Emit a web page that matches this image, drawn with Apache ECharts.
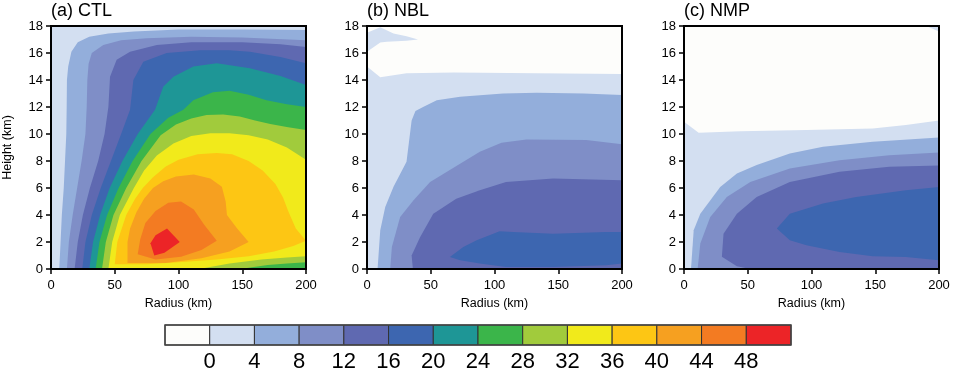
<!DOCTYPE html>
<html>
<head>
<meta charset="utf-8">
<script src="https://cdn.jsdelivr.net/npm/echarts@6.0.0/dist/echarts.min.js"></script>
<style>
html, body { margin: 0; padding: 0; background: #fff; }
#chart { width: 958px; height: 380px; }
</style>
</head>
<body>
<div id="chart"></div>
<script>
// colour bar: first colour is below 0, then one colour per 4 m/s step
const barLabels = [0, 4, 8, 12, 16, 20, 24, 28, 32, 36, 40, 44, 48];
const fillColors = ['#fdfdfb', '#d3dff1', '#93aedb', '#7f8ec7', '#5f69b1', '#3d66b0', '#1e9696',
    '#3bb54a', '#a1cb3c', '#f1ea1b', '#fdc614', '#f6a020', '#f37b22', '#ec2427'];

const fullBox = [[0, 0], [200, 0], [200, 18], [0, 18]];

// (a) CTL, outline of the area >= level, points are [radius km, height km]
const ctlLevels = [0, 4, 8, 12, 16, 20, 24, 28, 32, 36, 40, 44, 48];
const ctlShapes = [
    fullBox,
    [[6.5,0],[7.5,2],[8.5,4],[10,6],[11,8],[12,10],[12.3,12],[12.5,14],[13.5,15],[16,16.1],[21,16.8],[30,17.2],[45,17.45],[65,17.6],[100,17.75],[150,17.75],[200,17.7],[200,0]],
    [[12.5,0],[14,2],[17,4],[20.5,6],[24,8],[27,10],[28,12],[28.5,14],[29.5,15.2],[32,16.0],[41,16.6],[55,16.95],[75,17.1],[110,17.2],[150,17.15],[200,16.95],[200,0]],
    [[18.5,0],[21,2],[25,4],[30.5,6],[37,8],[42,10],[45,12],[46.3,14.25],[51.5,15.5],[62,16.1],[83,16.6],[110,16.8],[150,16.8],[180,16.65],[200,16.45],[200,0]],
    [[24.5,0],[27,2],[32,4],[39,6],[47,8],[55,10],[62,11.8],[64.6,14],[72.4,15.36],[90.7,16.0],[117,16.2],[140,16.2],[156,16.1],[180,15.7],[200,15.24],[200,0]],
    [[30,0],[33,2],[38.5,4],[46,6],[56,8],[68,10],[81.6,11.8],[88,13.5],[96,14.25],[111.6,15.0],[130,15.24],[156,14.87],[180,14.3],[200,13.63],[200,0]],
    [[35,0],[38,2],[44,4],[53,6],[64,8],[78,10],[92,11.2],[103.8,11.8],[111.6,12.5],[127,13.1],[140,13.2],[155,12.9],[169,12.5],[185,12.2],[200,12.0],[200,0]],
    [[40,0],[43,2],[49,4],[59,6],[71,8],[86,9.9],[98,10.7],[110,11.15],[122,11.4],[135,11.45],[148,11.3],[160,11.0],[172,10.75],[186,10.5],[200,10.3],[200,0.5],[185,0.4],[170,0.3],[148,0]],
    [[45,0],[48,2],[54,4],[65,6],[73,7.3],[83,8.4],[96,9.3],[110,9.85],[125,10.05],[140,10.05],[155,9.9],[170,9.6],[185,9.0],[200,8.1],[200,0.95],[185,0.85],[165,0.7],[140,0.4],[116,0]],
    [[50,0.35],[52,2],[59,4],[66,5.2],[72,6],[80,6.8],[90,7.6],[100,8.1],[115,8.5],[130,8.6],[142,8.5],[155,8.0],[166,7.3],[176,6.3],[182,5.3],[186,4.3],[192,3.0],[200,2.1],[190,1.7],[175,1.3],[155,0.95],[130,0.7],[100,0.5],[75,0.35]],
    [[60,0.45],[60,2],[62,3],[67,4.2],[73,5.2],[80,6.0],[88,6.5],[98,6.85],[112,7.0],[125,6.7],[134,6.1],[137,5.0],[138,4.0],[146,3.0],[155,2.0],[140,1.3],[118,0.8],[90,0.45]],
    [[68,1.1],[70,2.2],[74,3.4],[82,4.3],[92,4.9],[102,5.0],[112,4.4],[120,3.3],[130,2.1],[118,1.4],[102,0.9],[82,0.7]],
    [[78,1.9],[81,1.0],[89,1.2],[101,2.0],[91,3.0],[82,2.5]]
];

// (b) NBL, -1 marks the area below 0
const nblLevels = [0, -1, 4, 8, 12, 16];
const nblShapes = [
    fullBox,
    [[0,15],[10.4,14.2],[31,14.5],[68,14.55],[200,14.45],[200,18],[0,18],[0,17.5],[10.4,17.9],[20.8,17.45],[31,17.25],[40,17.0],[31,16.9],[15.6,16.84],[10.4,16.77],[0,16.1]],
    [[8.3,0],[10.4,2.87],[14.3,4.6],[20.8,6.1],[31,7.94],[35,11.0],[38,11.7],[44,12.0],[54.7,12.5],[73,12.76],[106.8,13.0],[133,13.06],[170,13.0],[200,12.88],[200,0]],
    [[18.2,0],[19.5,1.63],[26,3.86],[36.5,5.1],[49.5,6.45],[73,7.8],[88.5,8.68],[105.5,9.35],[125,9.6],[172,9.55],[200,9.25],[200,0]],
    [[36,0],[35,1.0],[41.7,2.37],[52,4.1],[70,5.2],[88.5,5.84],[109,6.45],[146,6.7],[200,6.58],[200,0]],
    [[65,0.89],[75.5,1.63],[86,2.13],[104,2.8],[114.6,2.74],[146,2.62],[187.5,2.74],[200,2.74],[200,0.4],[187.5,0.27],[146,0.15],[109,0.15],[88.5,0.4],[73,0.64]]
];

// (c) NMP
const nmpLevels = [0, -1, 4, 8, 12, 16];
const nmpShapes = [
    fullBox,
    [[0,10.9],[11.5,10.1],[44,10.2],[96,10.3],[148,10.4],[174,10.66],[200,11.0],[200,17.6],[190,18],[0,18]],
    [[5.5,0],[7.6,2.87],[12.8,4.1],[28.4,6.08],[41.5,7.07],[57,7.7],[83,8.56],[109,9.05],[148,9.42],[200,9.74],[200,0]],
    [[10.7,0],[12.8,1.88],[20.6,3.86],[33.6,5.34],[52,6.45],[83,7.44],[122,8.06],[161,8.43],[200,8.63],[200,0]],
    [[29.7,0.9],[31,2.62],[41.5,4.1],[57,5.34],[83,6.45],[122,7.2],[161,7.57],[200,7.67],[200,0],[52,0],[41.5,0.2]],
    [[72.8,3.0],[83,4.1],[109,4.85],[135,5.34],[174,5.84],[200,6.08],[200,0.64],[174,0.89],[148,0.94],[122,1.26],[96,1.76],[83,2.13]]
];

const panelTitles = ['(a) CTL', '(b) NBL', '(c) NMP'];
const panelLeft = [51, 367, 684];
const font = 'Liberation Sans, Arial, Helvetica, sans-serif';

function colorOf(lvl) {
    return lvl < 0 ? fillColors[0] : fillColors[lvl / 4 + 1];
}

function contourSeries(idx, lv, shapes) {
    return {
        type: 'custom',
        xAxisIndex: idx,
        yAxisIndex: idx,
        clip: true,
        silent: true,
        z: 1,
        data: lv.map((l, i) => [i, l]),
        renderItem: function (params, api) {
            const k = params.dataIndex;
            return {
                type: 'polygon',
                shape: { points: shapes[k].map(p => api.coord(p)) },
                style: { fill: colorOf(lv[k]) }
            };
        }
    };
}

const grids = [], xAxes = [], yAxes = [], titles = [];
panelLeft.forEach((left, i) => {
    grids.push({ left: left, top: 26, width: 255, height: 243, show: true, z: 5,
        borderColor: '#000', borderWidth: 2, backgroundColor: 'transparent' });
    xAxes.push({
        gridIndex: i, type: 'value', min: 0, max: 200, interval: 50, z: 6,
        name: 'Radius (km)', nameLocation: 'middle', nameGap: 26,
        nameTextStyle: { fontSize: 12.5, color: '#000', fontFamily: font },
        axisLine: { show: true, onZero: false, lineStyle: { color: '#000', width: 2 } },
        axisTick: { show: true, length: 5, lineStyle: { color: '#000', width: 1.5 } },
        axisLabel: { fontSize: 13, color: '#000', margin: 10, fontFamily: font },
        splitLine: { show: false }
    });
    yAxes.push({
        gridIndex: i, type: 'value', min: 0, max: 18, interval: 2, z: 6,
        name: i === 0 ? 'Height (km)' : '', nameLocation: 'middle', nameGap: 37, nameRotate: 90,
        nameTextStyle: { fontSize: 12.5, color: '#000', fontFamily: font },
        axisLine: { show: true, onZero: false, lineStyle: { color: '#000', width: 2 } },
        axisTick: { show: true, length: 5, lineStyle: { color: '#000', width: 1.5 } },
        axisLabel: { fontSize: 13, color: '#000', margin: 8, fontFamily: font },
        splitLine: { show: false }
    });
    titles.push({ text: panelTitles[i], left: left, top: 2, padding: 0,
        textStyle: { fontSize: 18, fontWeight: 'normal', color: '#000', fontFamily: font } });
});

// colour bar
grids.push({ left: 165, top: 325, width: 626, height: 20, show: true, z: 5,
    borderColor: '#444', borderWidth: 1.5, backgroundColor: 'transparent' });
xAxes.push({
    gridIndex: 3, type: 'value', min: 0, max: 14, interval: 1,
    axisLine: { show: false }, axisTick: { show: false }, splitLine: { show: false },
    axisLabel: { fontSize: 22, color: '#000', margin: 6, fontFamily: font,
        formatter: v => (v >= 1 && v <= barLabels.length) ? String(barLabels[v - 1]) : '' }
});
yAxes.push({ gridIndex: 3, type: 'value', min: 0, max: 1, show: false });

const series = [
    contourSeries(0, ctlLevels, ctlShapes),
    contourSeries(1, nblLevels, nblShapes),
    contourSeries(2, nmpLevels, nmpShapes),
    {
        type: 'custom', xAxisIndex: 3, yAxisIndex: 3, silent: true,
        data: fillColors.map((c, i) => [i, 0]),
        renderItem: function (params, api) {
            const i = params.dataIndex;
            const p0 = api.coord([i, 1]);
            const p1 = api.coord([i + 1, 0]);
            return {
                type: 'rect',
                shape: { x: p0[0], y: p0[1], width: p1[0] - p0[0], height: p1[1] - p0[1] },
                style: { fill: fillColors[i], stroke: '#333', lineWidth: 1 }
            };
        }
    }
];

const myChart = echarts.init(document.getElementById('chart'), null, { renderer: 'canvas' });
myChart.setOption({
    animation: false,
    backgroundColor: '#fff',
    title: titles,
    grid: grids,
    xAxis: xAxes,
    yAxis: yAxes,
    series: series
});
</script>
</body>
</html>
